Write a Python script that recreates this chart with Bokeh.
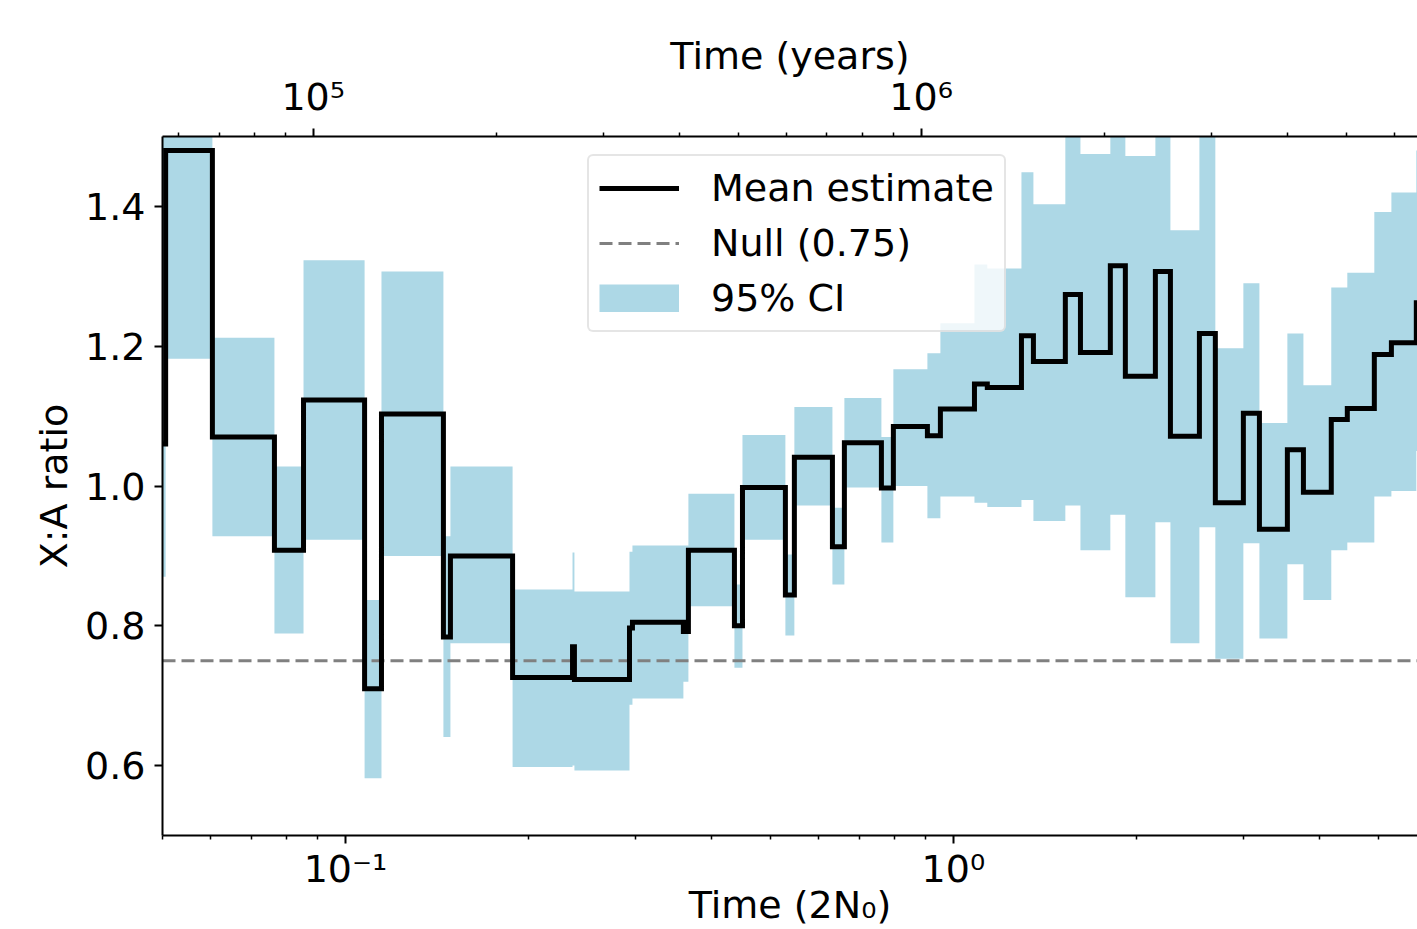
import numpy as np
from bokeh.plotting import figure
from bokeh.models import (Range1d, LogScale, LogAxis, FixedTicker, Legend, LegendItem,
                          PrintfTickFormatter)
from bokeh.embed import file_html
from bokeh.resources import INLINE

# ---------------- data ----------------
# start of each piecewise-constant interval, in units of 2N0
T_START = [0.0500, 0.0506, 0.0604, 0.0764, 0.0853, 0.1075, 0.1146, 0.1449, 0.1488, 0.1883,
           0.2363, 0.2380, 0.2932, 0.2965, 0.3596, 0.3665, 0.4363, 0.4498, 0.5292, 0.5475,
           0.6324, 0.6617, 0.7613, 0.7966, 0.9062, 0.9519, 1.083, 1.137, 1.294, 1.354,
           1.528, 1.618, 1.812, 1.918, 2.149, 2.275, 2.539, 2.697, 2.999, 3.187,
           3.543, 3.765, 4.184, 4.446, 4.925, 5.254, 5.774]
T_END = 6.324

MEAN = [1.06, 1.48, 1.070, 0.908, 1.123, 0.710, 1.103, 0.784, 0.900, 0.726,
        0.770, 0.723, 0.797, 0.805, 0.792, 0.908, 0.800, 0.998, 0.844, 1.041,
        0.913, 1.062, 0.997, 1.085, 1.072, 1.110, 1.146, 1.141, 1.215, 1.178,
        1.274, 1.191, 1.315, 1.157, 1.307, 1.071, 1.218, 0.976, 1.104, 0.938,
        1.052, 0.991, 1.095, 1.111, 1.188, 1.205, 1.262]

CI_LOW = [0.87, 1.182, 0.928, 0.789, 0.923, 0.582, 0.900, 0.641, 0.775, 0.598,
          0.600, 0.593, 0.687, 0.696, 0.720, 0.828, 0.740, 0.923, 0.786, 0.972,
          0.859, 0.998, 0.919, 1.000, 0.954, 0.985, 0.976, 0.970, 0.980, 0.950,
          0.972, 0.908, 0.959, 0.841, 0.948, 0.775, 0.941, 0.753, 0.918, 0.782,
          0.888, 0.837, 0.908, 0.919, 0.985, 0.993, 1.05]

CI_HIGH = [1.55, 1.55, 1.212, 1.028, 1.323, 0.837, 1.307, 0.928, 1.028, 0.852,
           0.905, 0.849, 0.906, 0.915, 0.915, 0.989, 0.859, 1.073, 0.902, 1.113,
           0.969, 1.126, 1.070, 1.167, 1.190, 1.233, 1.317, 1.311, 1.449, 1.403,
           1.55, 1.475, 1.55, 1.472, 1.55, 1.366, 1.55, 1.197, 1.290, 1.090,
           1.218, 1.144, 1.284, 1.305, 1.392, 1.420, 1.48]

NULL_RATIO = 0.75
YEARS_PER_UNIT = 1.13e6

X_MIN, X_MAX = 0.05, 5.80
Y_MIN, Y_MAX = 0.5, 1.5

X_TICKS = [0.1, 1]
X_TICK_LABELS = {0.1: "10\u207b\u00b9", 1: "10\u2070"}
X_MINOR = [0.05, 0.06, 0.07, 0.08, 0.09, 0.2, 0.3, 0.4, 0.5, 0.6, 0.7, 0.8, 0.9,
           2, 3, 4, 5]
YEAR_TICKS = [100000, 1000000]
YEAR_TICK_LABELS = {100000: "10\u2075", 1000000: "10\u2076"}
YEAR_MINOR = [60000, 70000, 80000, 90000, 200000, 300000, 400000, 500000, 600000,
              700000, 800000, 900000, 2000000, 3000000, 4000000, 5000000, 6000000]
Y_TICKS = [0.6, 0.8, 1.0, 1.2, 1.4]

# ---------------- figure ----------------
FONT = "DejaVu Sans"
FS = "38px"
CI_COLOR = "#ADD8E6"

p = figure(width=1417, height=929, x_axis_type="log",
           x_range=Range1d(X_MIN, X_MAX), y_range=Range1d(Y_MIN, Y_MAX),
           output_backend="svg", toolbar_location=None,
           min_border_left=162, min_border_top=136, min_border_right=0,
           min_border_bottom=94)
p.outline_line_color = None
p.grid.visible = False
p.background_fill_color = "white"
p.border_fill_color = "white"

xs = T_START + [T_END]
m = MEAN + [MEAN[-1]]
lo = CI_LOW + [CI_LOW[-1]]
hi = CI_HIGH + [CI_HIGH[-1]]

ci_r = p.varea_step(x=xs, y1=lo, y2=hi, step_mode="after",
                    fill_color=CI_COLOR, fill_alpha=1.0)
null_r = p.line([X_MIN, X_MAX], [NULL_RATIO, NULL_RATIO], line_color="#808080",
                line_width=3, line_dash="13 6")
mean_r = p.step(x=xs, y=m, mode="after", line_color="black", line_width=5,
                line_join="miter")
# legend proxy for the CI patch: a zero-length (invisible) segment whose legend
# swatch is a full-size 80x28 block, as in the reference legend
ci_proxy = p.line(x=[X_MIN, X_MIN], y=[Y_MIN, Y_MIN], line_color=CI_COLOR,
                  line_width=28, line_cap="butt")

# ---------------- axes ----------------
def style_axis(ax):
    ax.axis_line_width = 2
    ax.axis_line_color = "black"
    ax.major_tick_line_width = 2
    ax.major_tick_line_color = "black"
    ax.major_tick_out = 8
    ax.major_tick_in = 0
    ax.minor_tick_line_width = 1.5
    ax.minor_tick_line_color = "black"
    ax.minor_tick_out = 4
    ax.minor_tick_in = 0
    ax.major_label_text_font = FONT
    ax.major_label_text_font_size = FS
    ax.major_label_text_color = "black"
    ax.axis_label_text_font = FONT
    ax.axis_label_text_font_size = FS
    ax.axis_label_text_font_style = "normal"
    ax.axis_label_text_color = "black"

xax = p.xaxis[0]
style_axis(xax)
xax.ticker = FixedTicker(ticks=X_TICKS, minor_ticks=X_MINOR)
xax.major_label_overrides = X_TICK_LABELS
xax.major_label_standoff = 3
xax.axis_label = "Time (2N\u2080)"
xax.axis_label_standoff = -11

yax = p.yaxis[0]
style_axis(yax)
yax.ticker = FixedTicker(ticks=Y_TICKS)
yax.formatter = PrintfTickFormatter(format="%.1f")
yax.minor_tick_line_color = None
yax.major_label_standoff = 9
yax.axis_label = "X:A ratio"
yax.axis_label_standoff = 6

p.extra_x_ranges = {"years": Range1d(X_MIN * YEARS_PER_UNIT, X_MAX * YEARS_PER_UNIT)}
p.extra_x_scales = {"years": LogScale()}
top = LogAxis(x_range_name="years",
              ticker=FixedTicker(ticks=YEAR_TICKS, minor_ticks=YEAR_MINOR))
style_axis(top)
top.major_label_overrides = YEAR_TICK_LABELS
top.major_label_standoff = 10
top.axis_label = "Time (years)"
top.axis_label_standoff = -6
p.add_layout(top, "above")

# ---------------- legend ----------------
legend = Legend(items=[LegendItem(label="Mean estimate", renderers=[mean_r]),
                       LegendItem(label="Null (0.75)", renderers=[null_r]),
                       LegendItem(label="95% CI", renderers=[ci_proxy])],
                location=(425, 503))
legend.label_text_font = FONT
legend.label_text_font_size = FS
legend.label_text_color = "black"
legend.glyph_width = 80
legend.glyph_height = 28
legend.label_height = 28
legend.label_width = 283
legend.label_standoff = 32
legend.padding = 10
legend.spacing = 11
legend.margin = 0
legend.border_line_color = "#cccccc"
legend.border_line_width = 2
legend.background_fill_color = "white"
legend.background_fill_alpha = 0.8
if "border_radius" in Legend.properties():
    legend.border_radius = 6
p.add_layout(legend)

open("out.html", "w").write(file_html(p, INLINE))
